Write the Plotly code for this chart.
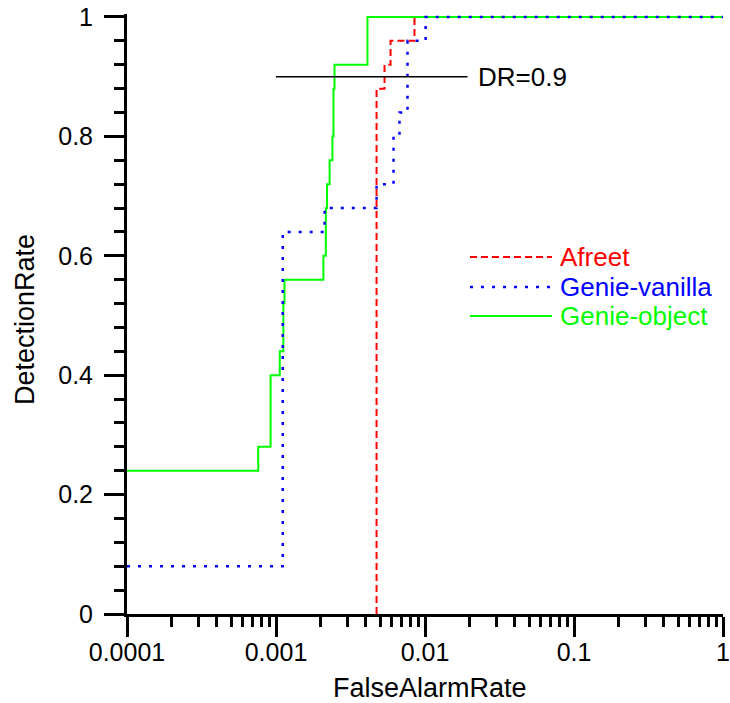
import plotly.graph_objects as go

# ---- data ----
afreet_far = [0.00473, 0.00473, 0.00535, 0.00587, 0.0085, 1.0]
afreet_dr = [0.0, 0.88, 0.92, 0.96, 1.0, 1.0]

vanilla_far = [0.0001, 0.00111, 0.00212, 0.00473, 0.00615, 0.00674, 0.00763, 0.0101, 1.0]
vanilla_dr = [0.08, 0.64, 0.68, 0.72, 0.80, 0.84, 0.96, 1.0, 1.0]

object_far = [0.0001, 0.00076, 0.00092, 0.00106, 0.00112, 0.00114, 0.00208, 0.00216,
              0.00220, 0.00229, 0.00239, 0.00243, 0.00247, 0.00411, 1.0]
object_dr = [0.24, 0.28, 0.40, 0.44, 0.52, 0.56, 0.60, 0.68,
             0.72, 0.76, 0.80, 0.88, 0.92, 1.0, 1.0]

dr_line_far = [0.001, 0.0193]
dr_line_dr = [0.9, 0.9]
dr_label = "DR=0.9"

x_tickvals = [0.0001, 0.001, 0.01, 0.1, 1]
x_ticktext = ["0.0001", "0.001", "0.01", "0.1", "1"]
y_tickvals = [0, 0.2, 0.4, 0.6, 0.8, 1.0]
y_ticktext = ["0", "0.2", "0.4", "0.6", "0.8", "1"]

series_names = ["Afreet", "Genie-vanilla", "Genie-object"]
series_colors = ["#FF0000", "#0000FF", "#00FF00"]
series_dash = ["7px,4px", "3px,8px", "solid"]

FONT = "Arial, Liberation Sans, sans-serif"

fig = go.Figure()
fig.add_trace(go.Scatter(x=afreet_far, y=afreet_dr, mode="lines", line_shape="hv",
                         line=dict(color=series_colors[0], width=2, dash=series_dash[0]),
                         name=series_names[0], showlegend=False))
fig.add_trace(go.Scatter(x=object_far, y=object_dr, mode="lines", line_shape="hv",
                         line=dict(color=series_colors[2], width=2, dash=series_dash[2]),
                         name=series_names[2], showlegend=False))
fig.add_trace(go.Scatter(x=vanilla_far, y=vanilla_dr, mode="lines", line_shape="hv",
                         line=dict(color=series_colors[1], width=2.5, dash=series_dash[1]),
                         name=series_names[1], showlegend=False))
fig.add_trace(go.Scatter(x=dr_line_far, y=dr_line_dr, mode="lines",
                         line=dict(color="black", width=1.5), showlegend=False))

# minor ticks for log axis
minor_x = [m * 10 ** e for e in range(-4, 0) for m in range(2, 10)]

# plot geometry (pixels)
L, R, T, B = 127, 7, 14, 89
W, H = 730, 703
pw = W - L - R
ph = H - T - B


def px_x(p):
    return (p - L) / pw


def px_y(p):
    return (H - B - p) / ph


# DR label (placed just right of the DR line end)
fig.add_annotation(x=-1.715 + 9 / 149, y=0.9, xref="x", yref="y", text=dr_label,
                   showarrow=False, xanchor="left", yanchor="middle",
                   font=dict(family=FONT, size=26, color="black"))

# manual legend
leg_y = [257, 287, 316]
for name, col, dash, yy in zip(series_names, series_colors, series_dash, leg_y):
    fig.add_shape(type="line", xref="paper", yref="paper",
                  x0=px_x(470), x1=px_x(552), y0=px_y(yy), y1=px_y(yy),
                  line=dict(color=col, width=2 if dash != "3px,8px" else 2.5, dash=dash))
    fig.add_annotation(xref="paper", yref="paper", x=px_x(558), y=px_y(yy),
                       text=name, showarrow=False, xanchor="left", yanchor="middle",
                       font=dict(family=FONT, size=26, color=col))

# axis titles
fig.add_annotation(xref="paper", yref="paper", x=px_x(430), y=px_y(688),
                   text="FalseAlarmRate", showarrow=False, xanchor="center", yanchor="middle",
                   font=dict(family=FONT, size=27, color="black"))
fig.add_annotation(xref="paper", yref="paper", x=px_x(25), y=px_y(320),
                   text="DetectionRate", showarrow=False, textangle=-90,
                   xanchor="center", yanchor="middle",
                   font=dict(family=FONT, size=27, color="black"))

fig.update_xaxes(type="log", range=[-4, 0], tickvals=x_tickvals, ticktext=x_ticktext,
                 showline=True, linecolor="black", linewidth=3, automargin=False,
                 ticks="outside", ticklen=20, tickwidth=3, tickcolor="black",
                 ticklabelstandoff=-6,
                 minor=dict(tickvals=minor_x, ticks="outside", ticklen=10, tickwidth=3,
                            tickcolor="black", showgrid=False),
                 showgrid=False, zeroline=False,
                 tickfont=dict(family=FONT, size=25, color="black"))
fig.update_yaxes(range=[0, 1.005], tickvals=y_tickvals, ticktext=y_ticktext,
                 showline=True, linecolor="black", linewidth=3, automargin=False,
                 ticks="outside", ticklen=20, tickwidth=3, tickcolor="black",
                 ticklabelstandoff=6,
                 minor=dict(dtick=0.04, tick0=0, ticks="outside", ticklen=10, tickwidth=3,
                            tickcolor="black", showgrid=False),
                 showgrid=False, zeroline=False,
                 tickfont=dict(family=FONT, size=25, color="black"))

fig.update_layout(width=W, height=H, margin=dict(l=L, r=R, t=T, b=B, autoexpand=False),
                  plot_bgcolor="white", paper_bgcolor="white", showlegend=False)

fig.write_html("out.html", config={"displayModeBar": False},
               post_script="document.body.style.margin='0';document.body.style.overflow='hidden';")
